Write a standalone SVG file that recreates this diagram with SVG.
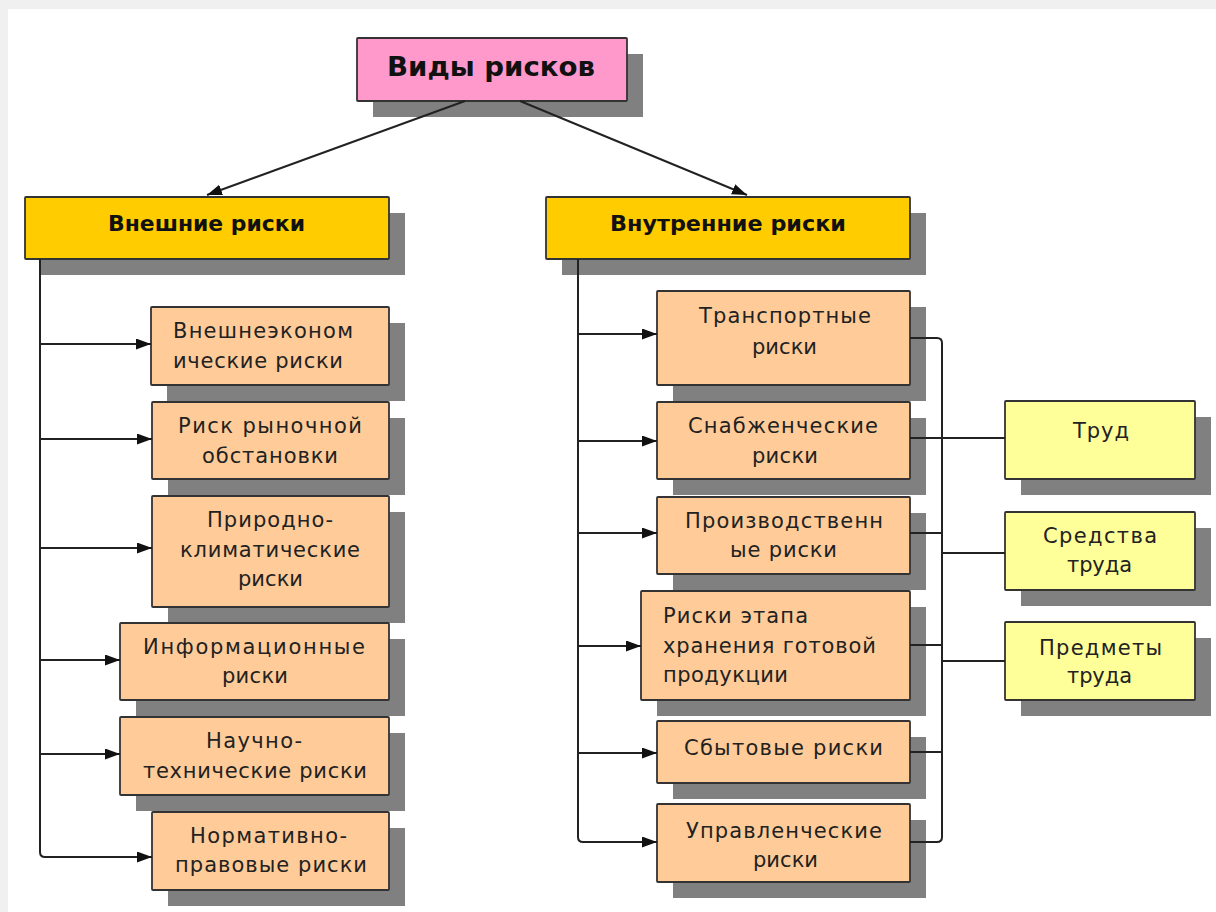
<svg xmlns="http://www.w3.org/2000/svg" width="1216" height="912" viewBox="0 0 1216 912">
<defs>
<marker id="arr" markerUnits="userSpaceOnUse" markerWidth="15" markerHeight="11" refX="15" refY="5.5" orient="auto">
<path d="M0,0 L15,5.5 L0,11 z" fill="#111"/>
</marker>
<style>
.sh{fill:#808080}
.bx{stroke:#333;stroke-width:1.8}
.pink{fill:#ff99cc}
.gold{fill:#ffcc00}
.peach{fill:#ffcc99}
.yel{fill:#ffff99}
.t{font-family:"DejaVu Sans","Liberation Sans",sans-serif;font-size:21px;fill:#222}
.h{font-family:"DejaVu Sans","Liberation Sans",sans-serif;font-weight:bold;fill:#111}
.c{fill:none;stroke:#222;stroke-width:2}
</style>
</defs>
<rect x="0" y="0" width="1216" height="912" fill="#f0f0f0"/>
<rect x="8" y="9" width="1208" height="903" fill="#ffffff"/>

<g id="n-root">
<rect class="sh" x="373" y="54" width="270" height="63"/>
<rect class="bx pink" x="357" y="38" width="270" height="63" rx="1"/>
<text class="h" x="387" y="76" font-size="26" textLength="208" lengthAdjust="spacingAndGlyphs">Виды рисков</text>
</g>

<g id="n-external">
<rect class="sh" x="41" y="213" width="364" height="62"/>
<rect class="bx gold" x="25" y="197" width="364" height="62" rx="1"/>
<text class="h" x="108" y="231" font-size="22" textLength="197" lengthAdjust="spacingAndGlyphs">Внешние риски</text>
</g>

<g id="n-internal">
<rect class="sh" x="562" y="213" width="364" height="62"/>
<rect class="bx gold" x="546" y="197" width="364" height="62" rx="1"/>
<text class="h" x="610" y="231" font-size="22" textLength="236" lengthAdjust="spacingAndGlyphs">Внутренние риски</text>
</g>

<g id="n-l1">
<rect class="sh" x="167" y="323" width="238" height="78"/>
<rect class="bx peach" x="151" y="307" width="238" height="78" rx="1"/>
<text class="t" x="173" y="338" textLength="180" lengthAdjust="spacing">Внешнеэконом</text>
<text class="t" x="173" y="368" textLength="170" lengthAdjust="spacing">ические риски</text>
</g>

<g id="n-l2">
<rect class="sh" x="168" y="418" width="237" height="77"/>
<rect class="bx peach" x="152" y="402" width="237" height="77" rx="1"/>
<text class="t" x="178" y="433" textLength="184" lengthAdjust="spacing">Риск рыночной</text>
<text class="t" x="202" y="463" textLength="136" lengthAdjust="spacing">обстановки</text>
</g>

<g id="n-l3">
<rect class="sh" x="168" y="512" width="237" height="111"/>
<rect class="bx peach" x="152" y="496" width="237" height="111" rx="1"/>
<text class="t" x="207" y="527" textLength="126" lengthAdjust="spacing">Природно-</text>
<text class="t" x="180" y="557" textLength="180" lengthAdjust="spacing">климатические</text>
<text class="t" x="238" y="586" textLength="65" lengthAdjust="spacing">риски</text>
</g>

<g id="n-l4">
<rect class="sh" x="136" y="639" width="269" height="77"/>
<rect class="bx peach" x="120" y="623" width="269" height="77" rx="1"/>
<text class="t" x="143" y="654" textLength="222" lengthAdjust="spacing">Информационные</text>
<text class="t" x="222" y="683" textLength="66" lengthAdjust="spacing">риски</text>
</g>

<g id="n-l5">
<rect class="sh" x="136" y="733" width="269" height="78"/>
<rect class="bx peach" x="120" y="717" width="269" height="78" rx="1"/>
<text class="t" x="206" y="748" textLength="96" lengthAdjust="spacing">Научно-</text>
<text class="t" x="143" y="778" textLength="224" lengthAdjust="spacing">технические риски</text>
</g>

<g id="n-l6">
<rect class="sh" x="168" y="828" width="237" height="78"/>
<rect class="bx peach" x="152" y="812" width="237" height="78" rx="1"/>
<text class="t" x="190" y="843" textLength="157" lengthAdjust="spacing">Нормативно-</text>
<text class="t" x="175" y="872" textLength="192" lengthAdjust="spacing">правовые риски</text>
</g>

<g id="n-r1">
<rect class="sh" x="673" y="307" width="253" height="94"/>
<rect class="bx peach" x="657" y="291" width="253" height="94" rx="1"/>
<text class="t" x="699" y="323" textLength="172" lengthAdjust="spacing">Транспортные</text>
<text class="t" x="752" y="354" textLength="65" lengthAdjust="spacing">риски</text>
</g>

<g id="n-r2">
<rect class="sh" x="673" y="418" width="253" height="77"/>
<rect class="bx peach" x="657" y="402" width="253" height="77" rx="1"/>
<text class="t" x="688" y="433" textLength="190" lengthAdjust="spacing">Снабженческие</text>
<text class="t" x="752" y="463" textLength="66" lengthAdjust="spacing">риски</text>
</g>

<g id="n-r3">
<rect class="sh" x="673" y="513" width="253" height="77"/>
<rect class="bx peach" x="657" y="497" width="253" height="77" rx="1"/>
<text class="t" x="685" y="528" textLength="198" lengthAdjust="spacing">Производственн</text>
<text class="t" x="730" y="557" textLength="107" lengthAdjust="spacing">ые риски</text>
</g>

<g id="n-r4">
<rect class="sh" x="657" y="607" width="269" height="109"/>
<rect class="bx peach" x="641" y="591" width="269" height="109" rx="1"/>
<text class="t" x="663" y="623" textLength="145" lengthAdjust="spacing">Риски этапа</text>
<text class="t" x="663" y="653" textLength="213" lengthAdjust="spacing">хранения готовой</text>
<text class="t" x="663" y="682" textLength="125" lengthAdjust="spacing">продукции</text>
</g>

<g id="n-r5">
<rect class="sh" x="673" y="737" width="253" height="62"/>
<rect class="bx peach" x="657" y="721" width="253" height="62" rx="1"/>
<text class="t" x="684" y="755" textLength="199" lengthAdjust="spacing">Сбытовые риски</text>
</g>

<g id="n-r6">
<rect class="sh" x="673" y="820" width="253" height="78"/>
<rect class="bx peach" x="657" y="804" width="253" height="78" rx="1"/>
<text class="t" x="686" y="838" textLength="196" lengthAdjust="spacing">Управленческие</text>
<text class="t" x="753" y="867" textLength="65" lengthAdjust="spacing">риски</text>
</g>

<g id="n-y1">
<rect class="sh" x="1021" y="417" width="190" height="78"/>
<rect class="bx yel" x="1005" y="401" width="190" height="78" rx="1"/>
<text class="t" x="1073" y="438" textLength="56" lengthAdjust="spacing">Труд</text>
</g>

<g id="n-y2">
<rect class="sh" x="1021" y="528" width="190" height="78"/>
<rect class="bx yel" x="1005" y="512" width="190" height="78" rx="1"/>
<text class="t" x="1043" y="543" textLength="114" lengthAdjust="spacing">Средства</text>
<text class="t" x="1067" y="572" textLength="65" lengthAdjust="spacing">труда</text>
</g>

<g id="n-y3">
<rect class="sh" x="1021" y="638" width="190" height="78"/>
<rect class="bx yel" x="1005" y="622" width="190" height="78" rx="1"/>
<text class="t" x="1039" y="655" textLength="123" lengthAdjust="spacing">Предметы</text>
<text class="t" x="1067" y="683" textLength="65" lengthAdjust="spacing">труда</text>
</g>

<g id="connectors">
<path class="c" d="M465,101 L207,195" marker-end="url(#arr)"/>
<path class="c" d="M520,101 L747,195" marker-end="url(#arr)"/>
<path class="c" d="M40,259 V852 Q40,857 45,857 H152" marker-end="url(#arr)"/>
<path class="c" d="M40,344 H151" marker-end="url(#arr)"/>
<path class="c" d="M40,439 H152" marker-end="url(#arr)"/>
<path class="c" d="M40,548 H152" marker-end="url(#arr)"/>
<path class="c" d="M40,660 H120" marker-end="url(#arr)"/>
<path class="c" d="M40,754 H120" marker-end="url(#arr)"/>
<path class="c" d="M578,259 V837 Q578,842 583,842 H657" marker-end="url(#arr)"/>
<path class="c" d="M578,334 H657" marker-end="url(#arr)"/>
<path class="c" d="M578,441 H657" marker-end="url(#arr)"/>
<path class="c" d="M578,533 H657" marker-end="url(#arr)"/>
<path class="c" d="M578,646 H641" marker-end="url(#arr)"/>
<path class="c" d="M578,753 H657" marker-end="url(#arr)"/>
<path class="c" d="M910,338 H937 Q942,338 942,343 V837 Q942,842 937,842 H910"/>
<path class="c" d="M910,533 H942"/>
<path class="c" d="M910,645 H942"/>
<path class="c" d="M910,752 H942"/>
<path class="c" d="M910,438 H1005"/>
<path class="c" d="M942,553 H1005"/>
<path class="c" d="M942,661 H1005"/>
</g>
</svg>
